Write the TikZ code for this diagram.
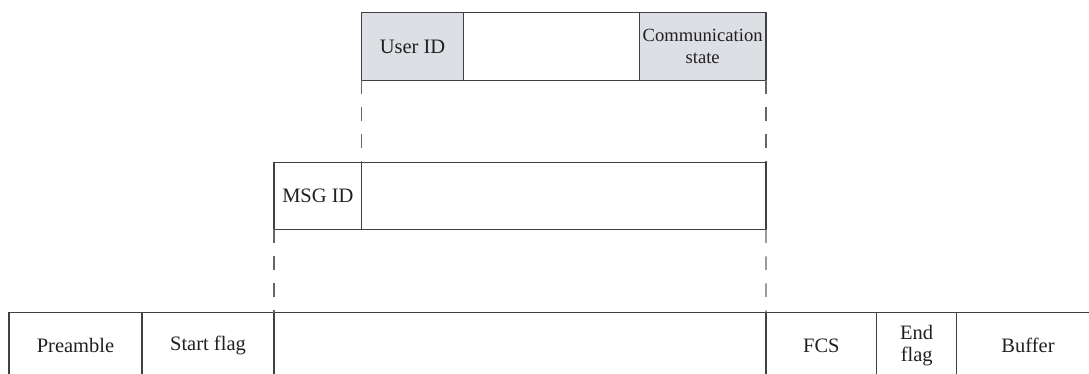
\documentclass[tikz,border=0pt]{standalone}
\usepackage{fontspec}
\setmainfont{Liberation Serif}
\definecolor{lineC}{HTML}{404040}
\definecolor{fillC}{HTML}{DCDFE4}
\definecolor{textC}{HTML}{231F20}
\begin{document}
\begin{tikzpicture}[x=1pt,y=-1pt,
  cell/.style={draw=lineC, line width=1.5pt, rectangle, inner sep=0pt, outer sep=0pt,
    anchor=north west, text=textC, align=center,
    font=\fontsize{20.5}{22.5}\selectfont},
  shaded/.style={cell, fill=fillC},
  guide/.style={draw=lineC!80, line width=1.3pt, dash pattern=on 13.5pt off 13.5pt}]
\useasboundingbox (0,0) rectangle (1089,374);
\clip (0,0) rectangle (1089,374);
% top row
\node[shaded, minimum width=101.6pt, minimum height=67.6pt] (uid) at (361.7,12.7) {User ID};
\node[cell, minimum width=176pt, minimum height=67.6pt] (ublank) at (463.3,12.7) {};
\node[shaded, minimum width=126.7pt, minimum height=67.6pt, font=\fontsize{18.6}{22}\selectfont] (ucomm) at (639.3,12.7) {Communication\\state};
% middle row
\node[cell, minimum width=87.7pt, minimum height=67pt] (mid) at (274,162.3) {MSG ID};
\node[cell, minimum width=404.3pt, minimum height=67pt] (mdata) at (361.7,162.3) {};
% bottom row
\node[cell, minimum width=133pt, minimum height=66pt] (pre) at (9,312.7) {Preamble};
\node[cell, minimum width=132pt, minimum height=66pt] (sflag) at (142,312.7) {Start flag};
\node[cell, minimum width=492pt, minimum height=66pt] (data) at (274,312.7) {};
\node[cell, minimum width=110.7pt, minimum height=66pt] (fcs) at (766,312.7) {FCS};
\node[cell, minimum width=80pt, minimum height=66pt] (eflag) at (876.7,312.7) {End\\flag};
\node[cell, minimum width=142.6pt, minimum height=66pt] (buf) at (956.7,312.7) {Buffer};
% guides
\draw[guide] (uid.south west) -- (mdata.north west);
\draw[guide] (ucomm.south east) -- (mdata.north east);
\draw[guide] (mid.south west) -- (data.north west);
\draw[guide] (mdata.south east) -- (data.north east);
\end{tikzpicture}
\end{document}
